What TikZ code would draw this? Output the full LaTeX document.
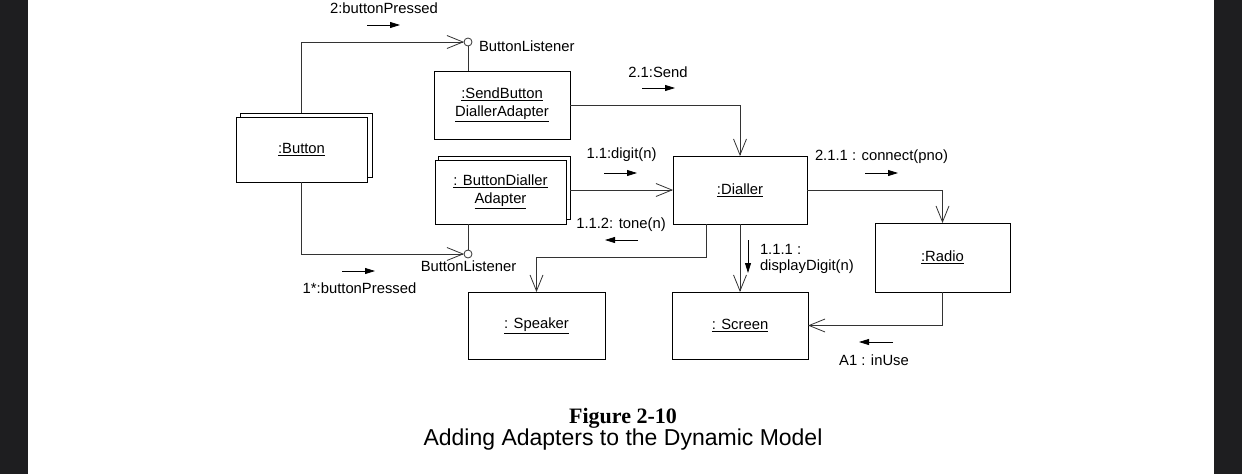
\documentclass[tikz,border=0pt]{standalone}
\usepackage{fontspec}
\setmainfont{Liberation Sans}
\newfontfamily\capserif{Liberation Serif}
\usetikzlibrary{arrows.meta}
\definecolor{barcol}{HTML}{1E1E20}
\definecolor{linecol}{HTML}{333333}
\begin{document}
\begin{tikzpicture}[x=1pt,y=-1pt,
  every node/.style={font=\fontsize{14.8}{18}\selectfont},
  obj/.style={draw=black, line width=0.95pt, fill=white, inner sep=0pt, outer sep=0pt, align=center},
  objbk/.style={draw=black, line width=0.95pt, fill=white, inner sep=0pt, outer sep=0pt},
  lolli/.style={circle, draw=linecol, fill=white, line width=0.8pt, minimum size=8pt, inner sep=0pt, outer sep=0pt},
  conn/.style={draw=linecol, line width=0.8pt},
  arr/.style={conn, -{Straight Barb[length=16pt,width=13pt]}},
  msg/.style={draw=black, line width=0.8pt, -{Triangle[length=10pt,width=6pt]}},
  lbl/.style={inner sep=0pt, outer sep=0pt}
]
\useasboundingbox (0,0) rectangle (1242,474);
\fill[white] (0,0) rectangle (1242,474);
\fill[barcol] (0,0) rectangle (28,474);
\fill[barcol] (1214,0) rectangle (1242,474);

% objects
\node[objbk, minimum width=132pt, minimum height=64pt] (buttonbk) at (306,145) {};
\node[obj, minimum width=131pt, minimum height=65pt] (button) at (301.5,149.5) {\underline{:Button}};
\node[obj, minimum width=136pt, minimum height=68pt] (sbda) at (502,105) {\underline{:SendButton}\\\underline{DiallerAdapter}};
\node[objbk, minimum width=132pt, minimum height=63pt] (bdabk) at (504,187.5) {};
\node[obj, minimum width=131pt, minimum height=64pt] (bda) at (500.5,192) {\underline{: ButtonDialler}\\\underline{Adapter}};
\node[obj, minimum width=134pt, minimum height=68pt] (dialler) at (740,190) {\underline{:Dialler}};
\node[obj, minimum width=135pt, minimum height=69pt] (radio) at (942.5,257.5) {\underline{:Radio}};
\node[obj, minimum width=137pt, minimum height=67pt] (speaker) at (536.5,325.5) {\underline{: Speaker}};
\node[obj, minimum width=136pt, minimum height=67pt] (screen) at (740,325.5) {\underline{: Screen}};

% lollipops
\node[lolli] (lis1) at (468,42) {};
\node[lolli] (lis2) at (468,254) {};
\node[lbl, anchor=west] (lis1t) at (479,46) {ButtonListener};
\node[lbl] (lis2t) at (468.5,266) {ButtonListener};

% connectors
\draw[arr] (button |- buttonbk.north) |- (lis1.west);
\draw[conn] (lis1.south) -- (lis1 |- sbda.north);
\draw[arr] (sbda.east) -| (dialler.north);
\draw[arr] (dialler.west -| bdabk.east) -- (dialler.west);
\draw[arr] (button.south) |- (lis2.west);
\draw[conn] (lis2.north) -- (lis2 |- bda.south);
\coordinate (k1) at (706,257);
\draw[arr] (k1 |- dialler.south) -- (k1) -| (speaker.north);
\draw[arr] (dialler.south) -- (screen.north);
\draw[arr] (dialler.east) -| (radio.north);
\draw[arr] (radio.south) |- (screen.east);

% messages
\node[lbl] (m1) at (384,8) {2:buttonPressed};
\coordinate (m1a) at (367,25); \coordinate (m1b) at (400,25);
\draw[msg] (m1a) -- (m1b);
\node[lbl] (m2) at (658,72) {2.1:Send};
\coordinate (m2a) at (642,88); \coordinate (m2b) at (675,88);
\draw[msg] (m2a) -- (m2b);
\node[lbl] (m3) at (621.5,155) {1.1:digit(n)};
\coordinate (m3a) at (604,173); \coordinate (m3b) at (637,173);
\draw[msg] (m3a) -- (m3b);
\node[lbl] (m4) at (881.5,157) {2.1.1 : connect(pno)};
\coordinate (m4a) at (865,173); \coordinate (m4b) at (898,173);
\draw[msg] (m4a) -- (m4b);
\node[lbl] (m5) at (621,225) {1.1.2: tone(n)};
\coordinate (m5a) at (638,240); \coordinate (m5b) at (605,240);
\draw[msg] (m5a) -- (m5b);
\node[lbl, anchor=west] (m6) at (760,249) {1.1.1 :};
\node[lbl, anchor=west] (m6b) at (760,267) {displayDigit(n)};
\coordinate (m6a) at (748,240); \coordinate (m6c) at (748,273);
\draw[msg] (m6a) -- (m6c);
\node[lbl] (m7) at (359.5,288) {1*:buttonPressed};
\coordinate (m7a) at (342,271); \coordinate (m7b) at (375,271);
\draw[msg] (m7a) -- (m7b);
\node[lbl] (m8) at (874,360) {A1 : inUse};
\coordinate (m8a) at (893,342); \coordinate (m8b) at (859,342);
\draw[msg] (m8a) -- (m8b);

% caption
\node[lbl, font=\capserif\bfseries\fontsize{22}{24}\selectfont] (cap1) at (623,418) {Figure 2-10};
\node[lbl, font=\fontsize{23}{26}\selectfont] (cap2) at (623,440) {Adding Adapters to the Dynamic Model};
\end{tikzpicture}
\end{document}
